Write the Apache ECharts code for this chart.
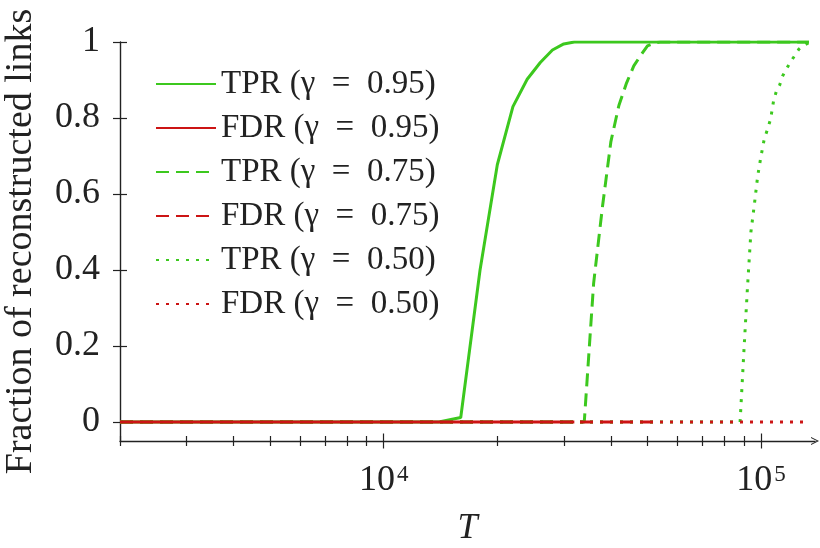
<!DOCTYPE html>
<html>
<head>
<meta charset="utf-8">
<script src="https://cdn.jsdelivr.net/npm/echarts@6/dist/echarts.min.js"></script>
<style>
  html, body { margin: 0; padding: 0; background: #fff; }
  #chart { width: 820px; height: 548px; }
</style>
</head>
<body>
<div id="chart"></div>
<script>
// T (x, log scale) and fraction values
var tpr95T = [2000, 14000, 16000, 18000, 20000, 22000, 24000, 26000, 28000, 30000, 32000, 134000];
var tpr95V = [0, 0, 0.012, 0.40, 0.677, 0.83, 0.902, 0.946, 0.979, 0.995, 1, 1];
var fdr95T = [2000, 32000];
var fdr95V = [0, 0];

var tpr75T = [2000, 34000, 36000, 38000, 40000, 42000, 44000, 46000, 48000, 50000, 52000, 54000, 134000];
var tpr75V = [0, 0, 0.365, 0.567, 0.738, 0.833, 0.892, 0.937, 0.965, 0.99, 0.997, 1, 1];
var fdr75T = [2000, 54000];
var fdr75V = [0, 0];

var tpr50T = [2000, 88000, 90000, 92000, 94000, 96000, 98000, 100000, 102000, 104000, 106000, 108000,
              110000, 112000, 114000, 116000, 118000, 120000, 122000, 124000, 126000, 128000, 130000, 132000, 134000];
var tpr50V = [0, 0, 0.18, 0.35, 0.50, 0.572, 0.648, 0.70, 0.745, 0.77, 0.797, 0.846,
              0.873, 0.886, 0.91, 0.924, 0.937, 0.949, 0.96, 0.971, 0.981, 0.987, 0.991, 0.995, 0.998];
var fdr50T = [2000, 134000];
var fdr50V = [0, 0];

var xMinorTicks = [2000, 3000, 4000, 5000, 6000, 7000, 8000, 9000,
                   20000, 30000, 40000, 50000, 60000, 70000, 80000, 90000];
var xMajorTicks = [10000, 100000];
var yTicks = [0, 0.2, 0.4, 0.6, 0.8, 1];

var names = ['TPR (γ = 0.95)', 'FDR (γ = 0.95)', 'TPR (γ = 0.75)', 'FDR (γ = 0.75)', 'TPR (γ = 0.50)', 'FDR (γ = 0.50)'];

var green = '#3cc81e';
var red = '#cc1414';
var font = 'Liberation Serif';
var axisColor = '#222';

function pairs(t, v) {
  var out = [];
  for (var i = 0; i < t.length; i++) out.push([t[i], v[i]]);
  return out;
}

function mkSeries(name, t, v, color, type) {
  return {
    name: name,
    type: 'line',
    data: pairs(t, v),
    symbol: 'none',
    lineStyle: { color: color, width: 3, type: type, cap: 'butt' },
    itemStyle: { color: color },
    animation: false
  };
}

function xAxisCopy(inside, len, ticks) {
  return {
    type: 'log', position: 'bottom', min: 2000, max: 139000,
    axisLine: { show: false, onZero: false },
    axisTick: { show: true, inside: inside, length: len, customValues: ticks, lineStyle: { color: axisColor, width: 1.2 } },
    axisLabel: { show: false },
    splitLine: { show: false }
  };
}

var chart = echarts.init(document.getElementById('chart'));
var option = {
  backgroundColor: '#fff',
  grid: { left: 120, right: 5, top: 42, bottom: 107, outerBoundsMode: 'none', containLabel: false },
  legend: {
    data: names,
    orient: 'vertical',
    left: 150,
    top: 62,
    itemWidth: 60,
    itemHeight: 34,
    itemGap: 10,
    itemStyle: { opacity: 0 },
    textStyle: { fontFamily: font, fontSize: 33, color: axisColor, lineHeight: 34 },
    formatter: function (n) { return n.replace(' = ', '\u2002=\u2002'); }
  },
  xAxis: [
    {
      type: 'log', position: 'bottom', min: 2000, max: 139000,
      name: 'T', nameLocation: 'middle', nameGap: 70,
      nameTextStyle: { fontFamily: font, fontSize: 36, fontStyle: 'italic', color: axisColor },
      axisLine: {
        show: true, onZero: false,
        symbol: ['none', 'path://M0,10 L5,0 L10,10 L8.6,10 L5,2.6 L1.4,10 Z'],
        symbolSize: [11, 8],
        symbolOffset: [0, 0],
        lineStyle: { color: axisColor, width: 1.4 }
      },
      axisTick: { show: true, inside: true, length: 5, customValues: xMinorTicks, lineStyle: { color: axisColor, width: 1.2 } },
      axisLabel: {
        customValues: xMajorTicks,
        margin: 22,
        color: axisColor,
        formatter: function (v) { return '{b|10}{s|' + Math.round(Math.log10(v)) + '}'; },
        rich: {
          b: { fontFamily: font, fontSize: 36, color: axisColor },
          s: { fontFamily: font, fontSize: 23, color: axisColor, verticalAlign: 'top', padding: [0, 0, 0, 2] }
        }
      },
      splitLine: { show: false }
    },
    xAxisCopy(false, 5, xMinorTicks),
    xAxisCopy(true, 7.5, xMajorTicks),
    xAxisCopy(false, 7.5, xMajorTicks)
  ],
  yAxis: [
    {
      type: 'value', position: 'left', min: -0.05, max: 1,
      name: 'Fraction of reconstructed links', nameLocation: 'middle', nameGap: 80,
      nameTextStyle: { fontFamily: font, fontSize: 38, color: axisColor },
      axisLine: { show: true, onZero: false, lineStyle: { color: axisColor, width: 1.4 } },
      axisTick: { show: true, inside: true, length: 7, customValues: yTicks, lineStyle: { color: axisColor, width: 1.2 } },
      axisLabel: {
        customValues: yTicks, margin: 20, fontFamily: font, fontSize: 36, color: axisColor,
        formatter: function (v) { return (v === 0 || v === 1) ? String(v) : v.toFixed(1); }
      },
      splitLine: { show: false }
    },
    {
      type: 'value', position: 'left', min: -0.05, max: 1,
      axisLine: { show: false, onZero: false },
      axisTick: { show: true, inside: false, length: 7, customValues: yTicks, lineStyle: { color: axisColor, width: 1.2 } },
      axisLabel: { show: false },
      splitLine: { show: false }
    }
  ],
  series: [
    mkSeries(names[0], tpr95T, tpr95V, green, 'solid'),
    mkSeries(names[1], fdr95T, fdr95V, red, 'solid'),
    mkSeries(names[2], tpr75T, tpr75V, green, [13, 7]),
    mkSeries(names[3], fdr75T, fdr75V, red, [13, 7]),
    mkSeries(names[4], tpr50T, tpr50V, green, [3, 7]),
    mkSeries(names[5], fdr50T, fdr50V, red, [3, 7])
  ]
};
chart.setOption(option);
</script>
</body>
</html>
